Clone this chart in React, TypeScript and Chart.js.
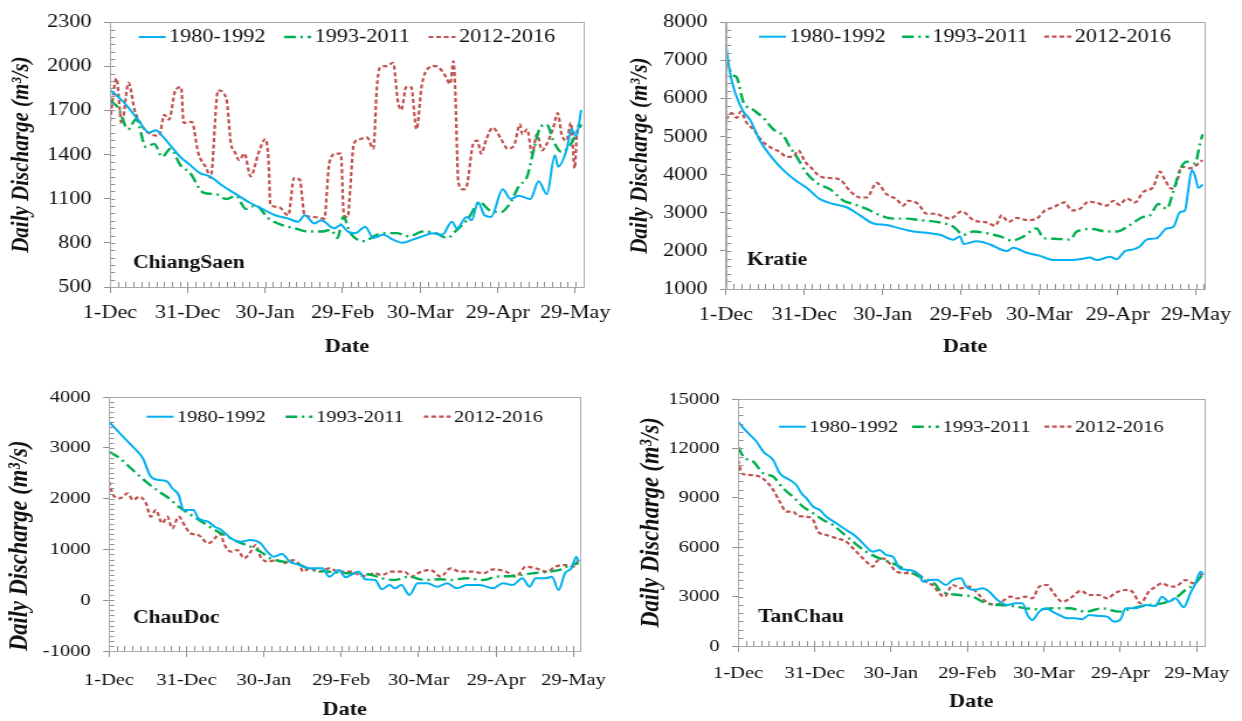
import React, { useEffect, useRef } from 'react';
import { Chart, registerables } from 'chart.js';

Chart.register(...registerables);

const FONT = '"Liberation Serif", "Times New Roman", Times, serif';
const TEXT = '#111111';
const FRAME = '#a9a9a9';
const TICK = '#8f8f8f';
const STRETCH = 1.17;

// ---------- labels ----------
const xTickLabels = ['1-Dec', '31-Dec', '30-Jan', '29-Feb', '30-Mar', '29-Apr', '29-May'];
const periodLabels = ['1980-1992', '1993-2011', '2012-2016'];
const stationNames = ['ChiangSaen', 'Kratie', 'ChauDoc', 'TanChau'];
const yAxisTitle = 'Daily Discharge (m³/s)';
const xAxisTitle = 'Date';

const chiangSaenYTicks = [500, 800, 1100, 1400, 1700, 2000, 2300];
const kratieYTicks = [1000, 2000, 3000, 4000, 5000, 6000, 7000, 8000];
const chauDocYTicks = [-1000, 0, 1000, 2000, 3000, 4000];
const tanChauYTicks = [0, 3000, 6000, 9000, 12000, 15000];

// ---------- data: [day since 1-Dec, discharge m3/s] ----------
type Pair = [number, number];

const chiangSaen1980: Pair[] = [[0,1840],[5.7,1749],[10.8,1638],[15.2,1550],[17.7,1565],[20.2,1528],[23.4,1462],[27.2,1385],[31,1329],[34.8,1274],[38.6,1252],[43.7,1186],[48.7,1131],[53.8,1076],[58.9,1031],[63.9,988],[69,965],[72.8,943],[75.3,988],[79.1,932],[81.7,954],[86.7,899],[89.3,921],[92,877],[95,866],[98.7,910],[101.9,833],[105.7,855],[109.5,822],[113.3,800],[117.1,822],[120.9,844],[124.7,866],[128.5,855],[132.3,943],[134.2,899],[138,976],[139.9,954],[142.4,1076],[144.9,988],[147.4,976],[151.9,1164],[155,1098],[158.2,1120],[162.6,1098],[165.8,1219],[169,1131],[172.1,1395],[173.4,1318],[176.6,1429],[178.5,1572],[180.4,1528],[182.3,1704]];
const chiangSaen1993: Pair[] = [[0,1771],[3.2,1716],[7,1572],[10.1,1640],[13.9,1451],[17.1,1473],[20.2,1385],[23.4,1440],[27.2,1329],[31,1274],[36.1,1142],[41.1,1131],[45,1098],[48.7,1120],[52.5,1031],[56.3,1054],[61.4,965],[66.5,921],[71.5,899],[76.6,877],[81.7,877],[85.5,888],[88,833],[90.3,976],[93,866],[98.7,811],[101.9,844],[105.7,866],[110.8,866],[115.8,844],[120.9,877],[126,866],[130.4,833],[134.2,888],[138.6,965],[143,1076],[146.9,1021],[151.3,1010],[155,1076],[158.2,1186],[161.4,1252],[163.9,1429],[166.4,1583],[169,1605],[171.5,1495],[174.7,1418],[177.9,1462],[180.4,1539],[182.3,1605]];
const chiangSaen2012: Pair[] = [[0,1627],[2.5,1918],[4.5,1610],[7.2,1888],[9.5,1704],[12,1605],[14.6,1550],[19,1528],[21,1671],[22.8,1638],[25.3,1837],[27.5,1859],[28.5,1616],[31.6,1623],[34.2,1407],[37.3,1307],[38.9,1241],[41.8,1837],[45,1782],[46.8,1473],[48,1428],[50,1362],[52,1407],[54.4,1252],[57.6,1418],[60.1,1506],[61.4,1340],[62,1064],[65.2,1043],[69,988],[71.2,1241],[73.4,1230],[75.3,988],[79.1,976],[82.9,965],[84.8,1340],[87.4,1407],[89.3,1407],[90.5,988],[92,976],[93,1186],[94.3,1473],[96.8,1506],[99.4,1517],[101.9,1440],[103.2,1848],[104.4,1991],[107,2002],[109.5,2024],[111.4,1759],[112.7,1704],[114.6,1859],[116.5,1859],[118.6,1572],[120.6,1870],[123.4,1991],[126,2002],[127.9,1980],[129.7,1936],[131.6,1881],[132.9,2035],[133.5,1870],[134.8,1208],[136.7,1164],[138,1186],[140.5,1473],[142.1,1495],[143.6,1407],[145.6,1506],[148.1,1583],[151.3,1506],[153.8,1440],[156.3,1462],[158.6,1605],[159.5,1539],[161.4,1572],[163.3,1407],[165.2,1539],[167.1,1429],[169,1473],[171.5,1583],[173.2,1682],[174.7,1539],[176.6,1495],[178.3,1616],[179.8,1307],[180.6,1539],[181.6,1616]];

const kratie1980: Pair[] = [[0,7404],[1.5,6680],[3.4,6168],[6.6,5657],[9.2,5445],[13,4890],[16.9,4507],[20.1,4252],[23.2,4040],[27.1,3828],[30.9,3657],[36,3357],[41.1,3230],[46.2,3145],[51.3,2933],[56.4,2719],[61.5,2678],[66.6,2591],[71.8,2507],[78.1,2464],[82,2422],[87.1,2295],[89.6,2379],[91,2182],[96.1,2251],[101.1,2167],[107.5,1996],[110,2081],[115.2,1952],[120.3,1868],[125.4,1758],[130.5,1758],[135.6,1783],[139.4,1825],[142,1758],[147.1,1843],[149.7,1783],[152.8,1996],[156,2039],[158.6,2124],[161.1,2295],[165,2336],[168.8,2591],[171.4,2635],[173.9,3018],[175.8,3061],[177.1,3613],[178.4,4124],[179.7,3955],[180.9,3657],[182.6,3741]];
const kratie1993: Pair[] = [[0,7106],[2.2,6638],[4.1,6551],[6.6,5913],[10.5,5700],[14.3,5488],[18.1,5190],[22,5018],[24.5,4722],[27.1,4466],[30.9,4040],[34.8,3784],[39.9,3614],[45,3317],[48.8,3230],[53.9,3102],[59,2933],[64.1,2847],[69.2,2847],[74.3,2806],[80.7,2762],[87.1,2635],[91,2422],[94.8,2507],[99.9,2464],[105,2379],[109.5,2269],[113.9,2379],[119,2591],[121.6,2336],[125.4,2320],[131.8,2295],[134.3,2507],[140.1,2576],[145.8,2507],[149.7,2507],[154.7,2678],[159.8,2890],[162.4,2933],[165.6,3230],[168.8,3102],[171.4,3572],[173.9,4124],[176.4,4339],[179.7,4295],[181.5,4806],[182.6,5062]];
const kratie2012: Pair[] = [[0,5445],[2.2,5616],[4.1,5488],[5.6,5657],[7.9,5361],[10.5,5190],[13.7,4890],[16.9,4722],[20.7,4594],[23.2,4466],[25.7,4466],[27.7,4636],[30.3,4339],[32.8,4168],[36,3955],[39.8,3912],[43.7,3869],[47.5,3572],[51.3,3401],[53.9,3401],[57.7,3784],[61.5,3486],[65.3,3357],[67.9,3189],[69.8,3316],[73.6,3230],[76.8,2975],[80.7,2975],[82,2933],[85.8,2847],[90.3,3035],[94.8,2806],[99.9,2745],[103.1,2660],[105.6,2933],[108.2,2762],[111.4,2864],[115.2,2806],[119,2847],[122.2,3061],[125.4,3145],[129.8,3273],[132.4,3061],[135.6,3102],[138.8,3291],[141.3,3273],[145.8,3189],[148.4,3316],[150.7,3205],[153.5,3376],[156.7,3273],[159.8,3546],[163.6,3674],[166.2,4083],[168.1,3869],[170.7,3631],[172.6,3784],[174.5,4211],[177.7,4168],[182.6,4381]];

const chauDoc1980: Pair[] = [[0,3514],[4.2,3285],[9.2,3022],[13.1,2793],[16.2,2431],[19.4,2366],[22.6,2333],[24.5,2203],[27,2071],[28.9,1776],[32.7,1776],[34.6,1612],[38.4,1546],[41,1447],[43.5,1382],[47.3,1218],[51.1,1152],[54.9,1185],[58.7,1120],[61.3,955],[63.8,856],[67,909],[70.1,758],[73.9,693],[77.7,628],[82.8,628],[85.3,463],[89.1,594],[91.7,450],[94.8,529],[96.8,561],[99.3,411],[103.1,398],[105.7,215],[108.8,299],[110.7,234],[113.3,299],[116.4,102],[119.6,333],[123.4,333],[127.2,266],[131,333],[134.8,234],[138.6,299],[143.7,299],[148.8,234],[152.6,333],[156.4,299],[160.2,431],[163,266],[165.3,431],[169.1,431],[171.6,463],[174.2,201],[176.7,529],[179.2,628],[181.1,856],[182,758]];
const chauDoc1993: Pair[] = [[0,2923],[4.2,2793],[9.2,2563],[14.3,2333],[19.4,2136],[23.2,2006],[27,1840],[30.8,1710],[35.9,1546],[41,1382],[46,1250],[49.8,1152],[54.9,1053],[58.7,955],[62.5,824],[67.6,758],[72.7,726],[77.7,610],[85.3,561],[92.9,529],[101.8,496],[105.7,431],[110.7,398],[116.4,463],[122.1,398],[128.5,411],[132.3,398],[138.6,431],[145,398],[150,463],[156.4,476],[164,529],[170.4,561],[175.4,607],[178.6,693],[182,726]];
const chauDoc2012: Pair[] = [[0,2333],[1.6,2071],[4.2,2006],[7.3,2104],[9.2,1973],[11.8,2038],[14.3,1908],[16.2,1644],[18.1,1776],[20.6,1514],[22.6,1644],[24.5,1415],[27,1644],[29.6,1447],[31.5,1317],[34.6,1283],[38.4,1120],[41,1218],[42.9,1317],[44.8,1087],[47.3,955],[49.8,988],[52.4,824],[54.9,955],[56.8,1087],[58.7,856],[61.3,758],[65.1,791],[67.6,726],[71.4,791],[73.9,693],[75.2,561],[77.7,628],[81.5,561],[85.3,628],[89.1,561],[94.2,561],[98,476],[103.1,529],[105.7,496],[109.4,561],[114.5,561],[117.1,463],[120.9,561],[124.7,594],[128.5,463],[132.3,628],[136.1,561],[141.2,561],[145,529],[148.8,607],[153.9,561],[157.7,463],[161.5,660],[165.3,628],[169.7,561],[172.9,660],[176.7,693],[179.8,660],[182,791]];

const tanChau1980: Pair[] = [[0,13621],[3.4,13014],[7.3,12407],[9.9,11799],[13.8,11295],[16.4,10488],[20.3,10081],[22.9,9777],[24.9,9273],[26.9,8970],[29.5,8459],[32.1,8259],[34.7,7852],[38.6,7451],[42.5,7044],[46.4,6638],[49,6236],[52.9,5727],[55.5,5830],[58.2,5526],[60.8,5423],[63.4,4719],[67.3,4615],[71.2,4300],[72.5,3905],[75.1,4008],[78,4030],[81.6,3704],[84.2,4008],[87.5,4111],[89.5,3601],[92.7,3400],[96,3504],[98.6,3297],[101.8,2794],[105.7,2490],[109,2593],[111.6,2593],[113.6,1882],[115.5,1578],[118.2,2085],[120.8,2288],[123.4,2085],[126,1882],[129.3,1681],[132.5,1681],[135.1,1620],[137.7,1882],[141.6,1822],[144.9,1780],[147.5,1476],[150.1,1620],[152.1,2288],[156,2288],[159.9,2490],[163.8,2429],[166.4,2995],[169,2690],[171.6,2896],[174.9,2349],[177.5,3199],[179.5,3807],[181.5,4512],[182.7,4312]];
const tanChau1993: Pair[] = [[0,12103],[2.1,11496],[6,11192],[9.9,10488],[13.8,10281],[17.7,9577],[21.6,9067],[25.5,8459],[29.5,8059],[33.4,7651],[37.3,7348],[41.2,6844],[45.1,6334],[50.3,5727],[55.5,5325],[60.8,5022],[66,4615],[71.2,4208],[77.7,3704],[79,3400],[86.9,3097],[92.1,2995],[97.3,2593],[102.5,2490],[107.7,2429],[112.9,2288],[118.2,2227],[123.4,2288],[129.9,2288],[136.4,2085],[142.9,2288],[149.5,2085],[154.7,2288],[161.2,2490],[166.4,2593],[171.6,2896],[175.5,3400],[179.5,3807],[182.1,4312]];
const tanChau2012: Pair[] = [[0,11295],[1.5,10488],[4.7,10385],[8.6,10281],[11.2,9978],[13.8,9474],[16.4,8763],[19,8156],[21.6,8156],[23.6,7895],[26.9,7852],[29.5,7651],[31.4,6941],[34.7,6741],[38.6,6540],[42.5,6334],[45.1,5934],[47.7,5526],[50.4,5118],[52.9,4815],[54.3,5118],[56.8,5325],[59.4,5022],[62.1,4512],[67.3,4414],[71.2,4312],[73.8,3905],[77.1,3601],[78.4,3300],[81,2995],[84.2,3704],[87.5,3504],[90.8,3601],[94,3199],[97.3,2690],[101.2,2490],[104.5,2794],[107,2995],[109.7,2896],[112.9,2995],[115.5,2896],[118.2,3601],[121.4,3704],[123.4,3300],[127.3,2690],[131.2,2995],[134.5,3358],[137.7,3097],[141.6,3097],[144.9,2896],[148.2,3237],[152.1,3400],[154.7,3300],[157.9,2593],[161.2,3300],[163.8,3601],[166.4,3807],[169,3641],[171.6,3601],[175.5,4008],[178.8,3807],[182.1,4414]];

// ---------- styles ----------
const lineColors = ['#00B0F0', '#00B050', '#C0504D'];
const lineDashes: number[][] = [[], [10, 4, 2, 4], [4, 2.5]];
const lineWidths = [2, 2.4, 2.2];

interface PanelSpec {
  station: string;
  series: Pair[][];
  yTicks: number[];
  yMinor: number;
  xMax: number;
  ox: number; oy: number; w: number; h: number;
  L: number; R: number; T: number; B: number;
  yTitleX: number; yTitleSize: number; yTitleAlign: string;
  tickOffset: number; dateCY: number; legendCY: number;
  labelX: number; labelCY: number;
  fs: number; legendGap: number;
}

const panels: PanelSpec[] = [
  { station: stationNames[0], series: [chiangSaen1980, chiangSaen1993, chiangSaen2012], yTicks: chiangSaenYTicks, yMinor: 50, xMax: 183.4,
    ox: 0, oy: 0, w: 621, h: 362, L: 110, R: 593, T: 15, B: 287, yTitleX: 22, yTitleSize: 21, yTitleAlign: 'center',
    tickOffset: 26, dateCY: 347, legendCY: 37, labelX: 133, labelCY: 263, fs: 19, legendGap: 16 },
  { station: stationNames[1], series: [kratie1980, kratie1993, kratie2012], yTicks: kratieYTicks, yMinor: 200, xMax: 183.1,
    ox: 621, oy: 0, w: 621, h: 362, L: 105, R: 583, T: 15, B: 289, yTitleX: 19, yTitleSize: 21, yTitleAlign: 'center',
    tickOffset: 26, dateCY: 347, legendCY: 36.7, labelX: 126, labelCY: 260, fs: 19, legendGap: 14 },
  { station: stationNames[2], series: [chauDoc1980, chauDoc1993, chauDoc2012], yTicks: chauDocYTicks, yMinor: 100, xMax: 182.7,
    ox: 0, oy: 362, w: 621, h: 359, L: 109, R: 589, T: 35, B: 289, yTitleX: 20, yTitleSize: 22.5, yTitleAlign: 'start',
    tickOffset: 29, dateCY: 348, legendCY: 54.7, labelX: 133, labelCY: 256, fs: 17.5, legendGap: 17 },
  { station: stationNames[3], series: [tanChau1980, tanChau1993, tanChau2012], yTicks: tanChauYTicks, yMinor: 500, xMax: 183.1,
    ox: 621, oy: 362, w: 621, h: 359, L: 117, R: 585, T: 37, B: 284, yTitleX: 31, yTitleSize: 22.5, yTitleAlign: 'center',
    tickOffset: 27, dateCY: 340, legendCY: 64.7, labelX: 137, labelCY: 255, fs: 17.5, legendGap: 12 },
];

const decorPlugin = {
  id: 'decor',
  afterDraw(chart: any, _args: any, opts: any) {
    const { ctx, chartArea: a, scales } = chart;
    const xs = scales.x;
    const ys = scales.y;
    ctx.save();
    ctx.setLineDash([]);
    ctx.lineWidth = 1;
    ctx.strokeStyle = TICK;
    ctx.beginPath();
    for (let d = 0; d <= xs.max + 1e-6; d += 3) {
      const px = Math.round(xs.getPixelForValue(d)) + 0.5;
      ctx.moveTo(px, a.bottom);
      ctx.lineTo(px, a.bottom - 5);
    }
    for (let v = ys.min; v <= ys.max + 1e-6; v += opts.yMinor) {
      const py = Math.round(ys.getPixelForValue(v)) + 0.5;
      ctx.moveTo(a.left, py);
      ctx.lineTo(a.left + 4.5, py);
    }
    ctx.stroke();
    ctx.strokeStyle = FRAME;
    ctx.strokeRect(Math.round(a.left) + 0.5, Math.round(a.top) + 0.5, Math.round(a.right - a.left), Math.round(a.bottom - a.top));

    // legend (inside the plot frame, centred)
    const datasets = chart.data.datasets;
    ctx.font = `${opts.fs}px ${FONT}`;
    ctx.textAlign = 'left';
    ctx.textBaseline = 'middle';
    const lineLen = 23;
    const textGap = 3;
    const itemW = datasets.map((ds: any) => lineLen + textGap + ctx.measureText(ds.label).width);
    const total = itemW.reduce((s: number, v: number) => s + v, 0) + opts.legendGap * (datasets.length - 1);
    let lx = (a.left + a.right) / 2 - total / 2;
    const ly = opts.legendY;
    datasets.forEach((ds: any, i: number) => {
      ctx.save();
      ctx.strokeStyle = ds.borderColor;
      ctx.lineWidth = ds.borderWidth;
      ctx.setLineDash(ds.borderDash || []);
      ctx.beginPath();
      ctx.moveTo(lx, ly);
      ctx.lineTo(lx + lineLen, ly);
      ctx.stroke();
      ctx.restore();
      ctx.fillStyle = TEXT;
      ctx.fillText(ds.label, lx + lineLen + textGap, ly + 0.5);
      lx += itemW[i] + opts.legendGap;
    });

    // station name
    ctx.fillStyle = TEXT;
    ctx.font = `bold 18.5px ${FONT}`;
    ctx.fillText(opts.station, opts.labelX, opts.labelY);
    ctx.restore();
  },
};

function Panel({ p }: { p: PanelSpec }) {
  const ref = useRef<HTMLCanvasElement | null>(null);
  const wi = Math.round(p.w / STRETCH);
  useEffect(() => {
    const canvas = ref.current;
    if (!canvas) return;
    const k = p.w / wi;
    const Li = p.L / k;
    const Ri = p.R / k;
    const yStep = p.yTicks[1] - p.yTicks[0];
    const tickFont = { family: FONT, size: p.fs };

    const chart = new Chart(canvas, {
      type: 'line',
      data: {
        datasets: p.series.map((pts, i) => ({
          label: periodLabels[i],
          data: pts.map(([d, q]) => ({ x: d, y: q })),
          borderColor: lineColors[i],
          backgroundColor: lineColors[i],
          borderWidth: lineWidths[i],
          borderDash: lineDashes[i],
          pointRadius: 0,
          pointHoverRadius: 0,
          fill: false,
          cubicInterpolationMode: 'monotone',
        })),
      },
      options: {
        animation: false,
        responsive: false,
        devicePixelRatio: 1,
        events: [],
        layout: { padding: { left: 0, right: wi - Ri, top: p.T, bottom: 0 } },
        plugins: {
          tooltip: { enabled: false },
          legend: { display: false },
          decor: {
            station: p.station, yMinor: p.yMinor, labelX: p.labelX / k, labelY: p.labelCY,
            fs: p.fs, legendGap: p.legendGap, legendY: p.legendCY,
          },
        },
        scales: {
          x: {
            type: 'linear',
            min: 0,
            max: p.xMax,
            afterFit: (scale: any) => { scale.height = p.h - p.B; },
            ticks: {
              stepSize: 30,
              includeBounds: false,
              autoSkip: false,
              maxRotation: 0,
              minRotation: 0,
              padding: p.tickOffset - 6 - (p.fs * 1.2) / 2,
              font: tickFont,
              color: TEXT,
              callback: (v: any) => {
                const n = Number(v);
                return n % 30 === 0 ? xTickLabels[n / 30] : '';
              },
            },
            grid: { drawOnChartArea: false, drawTicks: true, tickLength: 6, color: TICK, lineWidth: 1 },
            border: { display: true, color: FRAME, width: 1 },
            title: {
              display: true,
              text: xAxisTitle,
              color: TEXT,
              font: { family: FONT, size: 19, weight: 'bold', lineHeight: 1 },
              padding: { top: 0, bottom: p.h - p.dateCY - 9.5 },
            },
          },
          y: {
            type: 'linear',
            min: p.yTicks[0],
            max: p.yTicks[p.yTicks.length - 1],
            afterFit: (scale: any) => { scale.width = Li; },
            ticks: {
              stepSize: yStep,
              padding: 18.5 / k - 5,
              font: tickFont,
              color: TEXT,
              callback: (v: any) => String(v),
            },
            grid: { drawOnChartArea: false, drawTicks: true, tickLength: 5, color: TICK, lineWidth: 1 },
            border: { display: true, color: FRAME, width: 1 },
            title: {
              display: true,
              text: yAxisTitle,
              align: p.yTitleAlign,
              color: TEXT,
              font: { family: FONT, size: p.yTitleSize, weight: 'bold', style: 'italic', lineHeight: 1 },
              padding: { top: p.yTitleX / k - p.yTitleSize / 2, bottom: 0 },
            },
          },
        },
      } as any,
      plugins: [decorPlugin as any],
    });
    return () => chart.destroy();
  }, []);
  return (
    <canvas
      ref={ref}
      width={wi}
      height={p.h}
      style={{ position: 'absolute', left: p.ox, top: p.oy, width: p.w, height: p.h }}
    />
  );
}

export default function App() {
  return (
    <div style={{ position: 'fixed', left: 0, top: 0, width: 1242, height: 721, background: '#ffffff', overflow: 'hidden' }}>
      {panels.map((p) => (
        <Panel key={p.station} p={p} />
      ))}
    </div>
  );
}
